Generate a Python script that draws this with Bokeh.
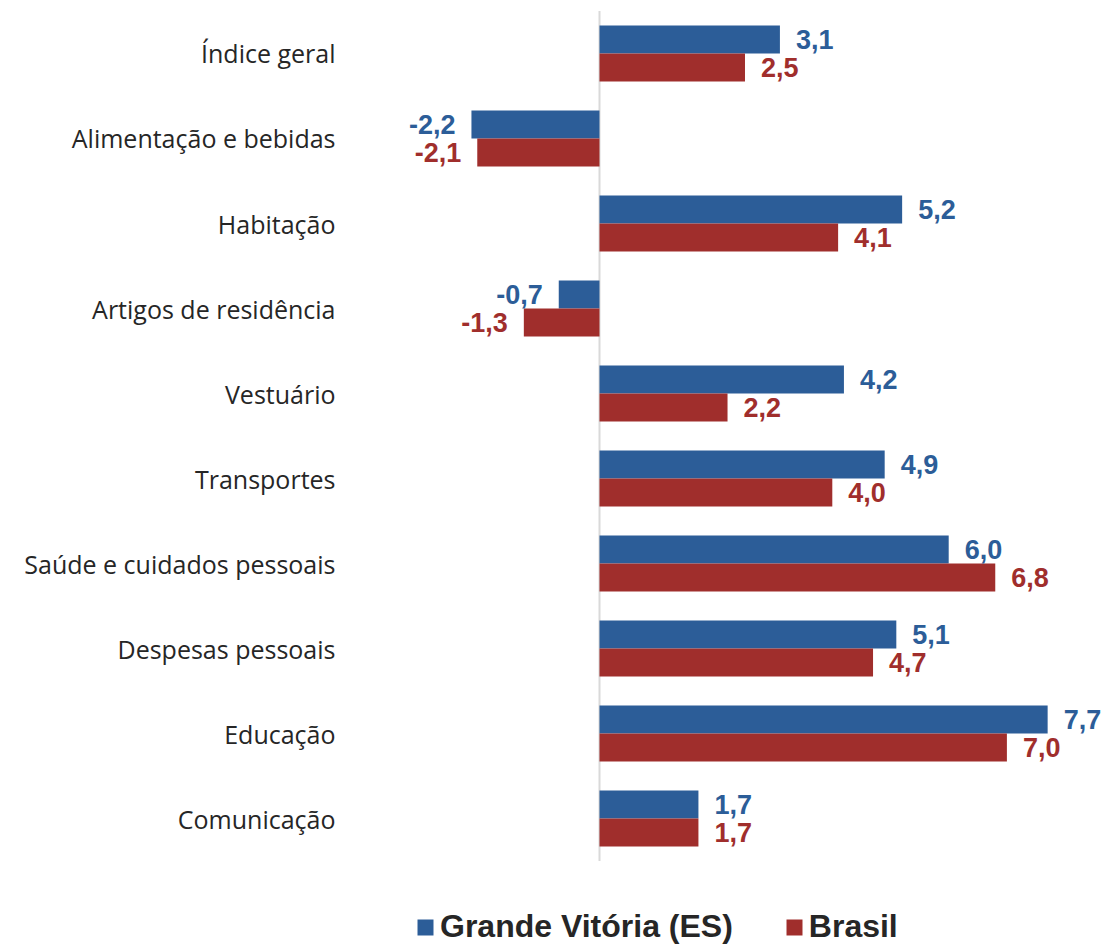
from bokeh.plotting import figure
from bokeh.models import Range1d, ColumnDataSource, Legend, LegendItem, FixedTicker
from bokeh.core.properties import value
from bokeh.embed import file_html
from bokeh.resources import INLINE

categories = ["Índice geral", "Alimentação e bebidas", "Habitação", "Artigos de residência",
              "Vestuário", "Transportes", "Saúde e cuidados pessoais", "Despesas pessoais",
              "Educação", "Comunicação"]
grande_vitoria = [3.1, -2.2, 5.2, -0.7, 4.2, 4.9, 6.0, 5.1, 7.7, 1.7]
brasil = [2.5, -2.1, 4.1, -1.3, 2.2, 4.0, 6.8, 4.7, 7.0, 1.7]
series_names = ["Grande Vitória (ES)", "Brasil"]

BLUE = "#2C5D98"
RED = "#A02E2C"
OFF = 0.165
n = len(categories)
ypos = [-i for i in range(n)]


def fmt(v):
    return f"{v:.1f}".replace(".", ",")


def src(vals, off):
    return ColumnDataSource(dict(
        y=[y + off for y in ypos],
        val=vals,
        txt=[fmt(v) for v in vals],
        align=["left" if v >= 0 else "right" for v in vals],
        xoff=[16 if v >= 0 else -16 for v in vals],
    ))


s_gv = src(grande_vitoria, OFF)
s_br = src(brasil, -OFF)

p = figure(width=1110, height=945, output_backend="svg", toolbar_location=None,
           y_range=Range1d(-10.494, 0.6235),
           x_range=Range1d(-4.364, 8.78),
           min_border_left=345, min_border_right=0, min_border_top=0, min_border_bottom=0)

p.outline_line_color = None
p.xgrid.visible = False
p.ygrid.visible = False
p.xaxis.visible = False
p.yaxis.ticker = FixedTicker(ticks=ypos)
p.yaxis.major_label_overrides = {y: c for y, c in zip(ypos, categories)}
p.yaxis.axis_line_color = None
p.yaxis.major_tick_line_color = None
p.yaxis.minor_tick_line_color = None
p.yaxis.major_tick_out = 0
p.yaxis.major_label_standoff = 10
p.yaxis.major_label_text_font = "Open Sans"
p.yaxis.major_label_text_font_size = "25px"
p.yaxis.major_label_text_color = "#262626"

# zero baseline spanning the category band
p.segment(x0=[0], y0=[ypos[0] + 0.5], x1=[0], y1=[ypos[-1] - 0.5],
          line_color="#D9D9D9", line_width=2)

r_gv = p.hbar(y="y", left=0, right="val", height=0.33,
              source=s_gv, fill_color=BLUE, line_color=None)
r_br = p.hbar(y="y", left=0, right="val", height=0.33,
              source=s_br, fill_color=RED, line_color=None)

for s, col in [(s_gv, BLUE), (s_br, RED)]:
    p.text(x="val", y="y", text="txt", source=s,
           text_align="align", x_offset="xoff", text_baseline="middle",
           text_font=value("Liberation Sans"), text_font_style="bold",
           text_font_size="27px", text_color=col)

legend = Legend(items=[LegendItem(label=series_names[0], renderers=[r_gv]),
                       LegendItem(label=series_names[1], renderers=[r_br])],
                orientation="horizontal", location=(70, 0),
                glyph_width=20, glyph_height=20, label_standoff=5, spacing=51,
                padding=0, margin=0, border_line_color=None, background_fill_alpha=0,
                label_text_font="Liberation Sans", label_text_font_style="bold",
                label_text_font_size="32px", label_text_color="#262626")
p.add_layout(legend)

open("out.html", "w").write(file_html(p, INLINE))
